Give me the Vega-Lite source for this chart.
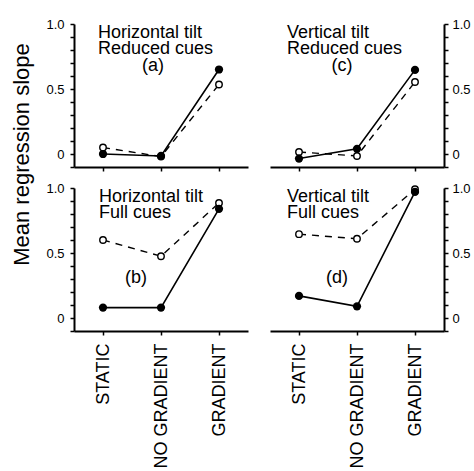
{
  "$schema": "https://vega.github.io/schema/vega-lite/v6.json",
  "background": "white",
  "padding": {"left": 9, "top": 18, "right": 0, "bottom": 0},
  "data": {
    "values": [
      {"panel": "a", "series": "filled", "condition": "STATIC", "slope": 0.0},
      {"panel": "a", "series": "filled", "condition": "NO GRADIENT", "slope": -0.015},
      {"panel": "a", "series": "filled", "condition": "GRADIENT", "slope": 0.65},
      {"panel": "a", "series": "open", "condition": "STATIC", "slope": 0.05},
      {"panel": "a", "series": "open", "condition": "NO GRADIENT", "slope": -0.02},
      {"panel": "a", "series": "open", "condition": "GRADIENT", "slope": 0.535},
      {"panel": "b", "series": "filled", "condition": "STATIC", "slope": 0.08},
      {"panel": "b", "series": "filled", "condition": "NO GRADIENT", "slope": 0.08},
      {"panel": "b", "series": "filled", "condition": "GRADIENT", "slope": 0.84},
      {"panel": "b", "series": "open", "condition": "STATIC", "slope": 0.6},
      {"panel": "b", "series": "open", "condition": "NO GRADIENT", "slope": 0.475},
      {"panel": "b", "series": "open", "condition": "GRADIENT", "slope": 0.885},
      {"panel": "c", "series": "filled", "condition": "STATIC", "slope": -0.035},
      {"panel": "c", "series": "filled", "condition": "NO GRADIENT", "slope": 0.04},
      {"panel": "c", "series": "filled", "condition": "GRADIENT", "slope": 0.647},
      {"panel": "c", "series": "open", "condition": "STATIC", "slope": 0.015},
      {"panel": "c", "series": "open", "condition": "NO GRADIENT", "slope": -0.015},
      {"panel": "c", "series": "open", "condition": "GRADIENT", "slope": 0.554},
      {"panel": "d", "series": "filled", "condition": "STATIC", "slope": 0.17},
      {"panel": "d", "series": "filled", "condition": "NO GRADIENT", "slope": 0.09},
      {"panel": "d", "series": "filled", "condition": "GRADIENT", "slope": 0.97},
      {"panel": "d", "series": "open", "condition": "STATIC", "slope": 0.645},
      {"panel": "d", "series": "open", "condition": "NO GRADIENT", "slope": 0.61},
      {"panel": "d", "series": "open", "condition": "GRADIENT", "slope": 0.99}
    ]
  },
  "columns": 2,
  "spacing": {"row": 21, "column": 22},
  "bounds": "flush",
  "concat": [
    {
      "width": 174, "height": 143,
      "title": {"text": ["Horizontal tilt", "Reduced cues"], "dx": 24},
      "transform": [{"filter": "datum.panel == 'a'"}],
      "encoding": {
        "x": {"field": "condition", "type": "nominal", "sort": ["STATIC", "NO GRADIENT", "GRADIENT"], "scale": {"type": "point", "padding": 0.5}, "axis": {"title": null, "labels": false}},
        "y": {"field": "slope", "type": "quantitative", "scale": {"domain": [-0.1, 1.0], "nice": false, "zero": false},
          "axis": {"orient": "left", "values": [-0.1, 0, 0.1, 0.2, 0.3, 0.4, 0.5, 0.6, 0.7, 0.8, 0.9, 1], "labelExpr": "datum.value === 0 ? '0' : abs(datum.value - 0.5) < 0.000001 ? '0.5' : abs(datum.value - 1) < 0.000001 ? '1.0' : ''", "labelFontSize": 13, "labelPadding": 6, "labelFlush": false, "labelOverlap": false,
            "title": "Mean regression slope", "titleFontSize": 22, "titleX": -41, "titleY": 130, "titleAngle": -90, "titleAlign": "center", "titleBaseline": "bottom"}}
      },
      "layer": [
        {"transform": [{"filter": "datum.series == 'open'"}], "mark": {"type": "line", "color": "black", "strokeWidth": 1.4, "strokeDash": [7, 6]}},
        {"transform": [{"filter": "datum.series == 'open'"}], "mark": {"type": "point", "shape": "circle", "filled": true, "fill": "white", "stroke": "black", "strokeWidth": 1.4, "size": 42, "opacity": 1}},
        {"transform": [{"filter": "datum.series == 'filled'"}], "mark": {"type": "line", "color": "black", "strokeWidth": 1.6}},
        {"transform": [{"filter": "datum.series == 'filled'"}], "mark": {"type": "circle", "color": "black", "size": 68, "opacity": 1}},
        {"transform": [{"filter": "datum.series == 'filled' && datum.condition == 'NO GRADIENT'"}], "mark": {"type": "text", "text": "(a)", "fontSize": 18, "font": "Liberation Sans", "color": "black", "dx": -8},
          "encoding": {"y": {"datum": 0.675, "type": "quantitative"}}}
      ]
    },
    {
      "width": 174, "height": 143,
      "title": {"text": ["Vertical tilt", "Reduced cues"], "dx": 17},
      "transform": [{"filter": "datum.panel == 'c'"}],
      "encoding": {
        "x": {"field": "condition", "type": "nominal", "sort": ["STATIC", "NO GRADIENT", "GRADIENT"], "scale": {"type": "point", "padding": 0.5}, "axis": {"title": null, "labels": false}},
        "y": {"field": "slope", "type": "quantitative", "scale": {"domain": [-0.1, 1.0], "nice": false, "zero": false},
          "axis": {"orient": "right", "values": [-0.1, 0, 0.1, 0.2, 0.3, 0.4, 0.5, 0.6, 0.7, 0.8, 0.9, 1], "labelExpr": "datum.value === 0 ? '0' : abs(datum.value - 0.5) < 0.000001 ? '0.5' : abs(datum.value - 1) < 0.000001 ? '1.0' : ''", "labelFontSize": 13, "labelPadding": 4, "labelFlush": false, "labelOverlap": false, "title": null}}
      },
      "layer": [
        {"transform": [{"filter": "datum.series == 'open'"}], "mark": {"type": "line", "color": "black", "strokeWidth": 1.4, "strokeDash": [7, 6]}},
        {"transform": [{"filter": "datum.series == 'open'"}], "mark": {"type": "point", "shape": "circle", "filled": true, "fill": "white", "stroke": "black", "strokeWidth": 1.4, "size": 42, "opacity": 1}},
        {"transform": [{"filter": "datum.series == 'filled'"}], "mark": {"type": "line", "color": "black", "strokeWidth": 1.6}},
        {"transform": [{"filter": "datum.series == 'filled'"}], "mark": {"type": "circle", "color": "black", "size": 68, "opacity": 1}},
        {"transform": [{"filter": "datum.series == 'filled' && datum.condition == 'NO GRADIENT'"}], "mark": {"type": "text", "text": "(c)", "fontSize": 18, "font": "Liberation Sans", "color": "black", "dx": -15},
          "encoding": {"y": {"datum": 0.675, "type": "quantitative"}}}
      ]
    },
    {
      "width": 174, "height": 143,
      "title": {"text": ["Horizontal tilt", "Full cues"], "dx": 25},
      "transform": [{"filter": "datum.panel == 'b'"}],
      "encoding": {
        "x": {"field": "condition", "type": "nominal", "sort": ["STATIC", "NO GRADIENT", "GRADIENT"], "scale": {"type": "point", "padding": 0.5}, "axis": {"title": null, "labelAngle": -90, "labelFontSize": 18, "labelPadding": 8}},
        "y": {"field": "slope", "type": "quantitative", "scale": {"domain": [-0.1, 1.0], "nice": false, "zero": false},
          "axis": {"orient": "left", "values": [-0.1, 0, 0.1, 0.2, 0.3, 0.4, 0.5, 0.6, 0.7, 0.8, 0.9, 1], "labelExpr": "datum.value === 0 ? '0' : abs(datum.value - 0.5) < 0.000001 ? '0.5' : abs(datum.value - 1) < 0.000001 ? '1.0' : ''", "labelFontSize": 13, "labelPadding": 6, "labelFlush": false, "labelOverlap": false, "title": null}}
      },
      "layer": [
        {"transform": [{"filter": "datum.series == 'open'"}], "mark": {"type": "line", "color": "black", "strokeWidth": 1.4, "strokeDash": [7, 6]}},
        {"transform": [{"filter": "datum.series == 'open'"}], "mark": {"type": "point", "shape": "circle", "filled": true, "fill": "white", "stroke": "black", "strokeWidth": 1.4, "size": 42, "opacity": 1}},
        {"transform": [{"filter": "datum.series == 'filled'"}], "mark": {"type": "line", "color": "black", "strokeWidth": 1.6}},
        {"transform": [{"filter": "datum.series == 'filled'"}], "mark": {"type": "circle", "color": "black", "size": 68, "opacity": 1}},
        {"transform": [{"filter": "datum.series == 'filled' && datum.condition == 'STATIC'"}], "mark": {"type": "text", "text": "(b)", "fontSize": 18, "font": "Liberation Sans", "color": "black", "dx": 33},
          "encoding": {"y": {"datum": 0.305, "type": "quantitative"}}}
      ]
    },
    {
      "width": 174, "height": 143,
      "title": {"text": ["Vertical tilt", "Full cues"], "dx": 17},
      "transform": [{"filter": "datum.panel == 'd'"}],
      "encoding": {
        "x": {"field": "condition", "type": "nominal", "sort": ["STATIC", "NO GRADIENT", "GRADIENT"], "scale": {"type": "point", "padding": 0.5}, "axis": {"title": null, "labelAngle": -90, "labelFontSize": 18, "labelPadding": 8}},
        "y": {"field": "slope", "type": "quantitative", "scale": {"domain": [-0.1, 1.0], "nice": false, "zero": false},
          "axis": {"orient": "right", "values": [-0.1, 0, 0.1, 0.2, 0.3, 0.4, 0.5, 0.6, 0.7, 0.8, 0.9, 1], "labelExpr": "datum.value === 0 ? '0' : abs(datum.value - 0.5) < 0.000001 ? '0.5' : abs(datum.value - 1) < 0.000001 ? '1.0' : ''", "labelFontSize": 13, "labelPadding": 4, "labelFlush": false, "labelOverlap": false, "title": null}}
      },
      "layer": [
        {"transform": [{"filter": "datum.series == 'open'"}], "mark": {"type": "line", "color": "black", "strokeWidth": 1.4, "strokeDash": [7, 6]}},
        {"transform": [{"filter": "datum.series == 'open'"}], "mark": {"type": "point", "shape": "circle", "filled": true, "fill": "white", "stroke": "black", "strokeWidth": 1.4, "size": 42, "opacity": 1}},
        {"transform": [{"filter": "datum.series == 'filled'"}], "mark": {"type": "line", "color": "black", "strokeWidth": 1.6}},
        {"transform": [{"filter": "datum.series == 'filled'"}], "mark": {"type": "circle", "color": "black", "size": 68, "opacity": 1}},
        {"transform": [{"filter": "datum.series == 'filled' && datum.condition == 'STATIC'"}], "mark": {"type": "text", "text": "(d)", "fontSize": 18, "font": "Liberation Sans", "color": "black", "dx": 38},
          "encoding": {"y": {"datum": 0.31, "type": "quantitative"}}}
      ]
    }
  ],
  "config": {
    "view": {"stroke": null},
    "axis": {"grid": false, "domainColor": "black", "domainWidth": 2, "tickColor": "black", "tickWidth": 1.5, "tickSize": 4, "labelColor": "black", "labelFont": "Liberation Sans", "titleFont": "Liberation Sans", "titleColor": "black", "titleFontWeight": "normal"},
    "title": {"anchor": "start", "frame": "group", "fontSize": 18, "fontWeight": "normal", "font": "Liberation Sans", "color": "black", "baseline": "top", "offset": -40, "lineHeight": 16}
  }
}
